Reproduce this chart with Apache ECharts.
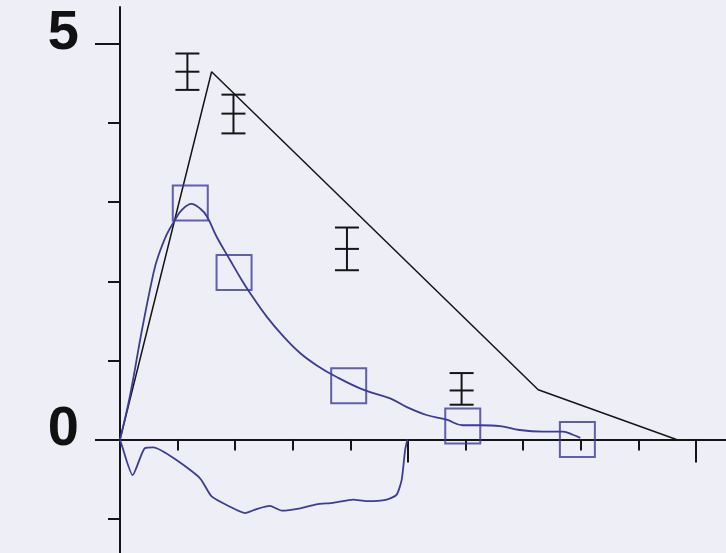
<!DOCTYPE html>
<html>
<head>
<meta charset="utf-8">
<script src="https://cdn.jsdelivr.net/npm/echarts@6/dist/echarts.min.js"></script>
<style>
html,body{margin:0;padding:0;background:#eeeef6;}
#c{width:726px;height:553px;}
</style>
</head>
<body>
<div id="c"></div>
<script>
// Tick values
const xMinorTicks = [1, 2, 3, 4, 6, 7, 8, 9];
const xMajorTicks = [0, 5, 10];
const yMinorTicks = [-4, -3, -2, -1, 1, 2, 3, 4];
const yMajorTicks = [-5, 0, 5];
const yTickLabels = [0, 5];

// Black straight polyline
const blackX = [0, 1.59, 7.26, 9.66];
const blackY = [0, 4.65, 0.63, 0];

// Error bars (black)
const errX    = [1.17, 1.97, 3.94, 5.93];
const errMid  = [4.65, 4.12, 2.41, 0.62];
const errLow  = [4.42, 3.87, 2.14, 0.44];
const errHigh = [4.88, 4.36, 2.68, 0.84];

// Open squares (blue)
const sqX = [1.22, 1.98, 3.97, 5.95, 7.94];
const sqY = [2.99, 2.11, 0.68, 0.17, 0.0];

// Smooth blue curve (positive)
const blueX = [0, 0.17, 0.38, 0.58, 0.66, 0.81, 0.95, 1.07, 1.24, 1.39, 1.51, 1.68, 1.91, 2.11, 2.26, 2.55, 2.84, 3.13, 3.41, 3.76, 4.22, 4.69, 4.98, 5.32, 5.67, 5.95, 6.25, 6.60, 6.94, 7.34, 7.69, 7.86, 7.99];
const blueY = [0, 0.54, 1.38, 2.10, 2.31, 2.59, 2.77, 2.90, 2.98, 2.92, 2.82, 2.56, 2.27, 2.02, 1.85, 1.55, 1.30, 1.09, 0.94, 0.79, 0.63, 0.52, 0.41, 0.31, 0.25, 0.18, 0.18, 0.17, 0.12, 0.10, 0.10, 0.06, 0.02];

// Jagged blue curve (negative)
const lowX = [0, 0.03, 0.22, 0.43, 0.58, 0.98, 1.39, 1.59, 1.91, 2.17, 2.37, 2.60, 2.81, 3.13, 3.41, 3.70, 4.05, 4.28, 4.63, 4.80, 4.89, 4.95, 4.99];
const lowY = [0, -0.07, -0.45, -0.11, -0.10, -0.26, -0.49, -0.72, -0.85, -0.93, -0.88, -0.84, -0.90, -0.87, -0.82, -0.80, -0.76, -0.78, -0.76, -0.70, -0.51, -0.13, 0.0];

const zip = (a, b) => a.map((v, i) => [v, b[i]]);
const errData = errX.map((x, i) => [x, errLow[i], errMid[i], errHigh[i]]);

const BLUE = '#3b3b98';
const BLACK = '#151515';
const XMIN = 0, XMAX = 10.52, YMIN = -5, YMAX = 5.468;

const chart = echarts.init(document.getElementById('c'));
chart.setOption({
  backgroundColor: '#eeeef6',
  animation: false,
  grid: {left: 120, width: 606, top: 7, height: 828, outerBoundsMode: 'none', containLabel: false},
  xAxis: [{
    type: 'value', min: XMIN, max: XMAX, interval: 1,
    axisLine: {show: true, onZero: true, lineStyle: {color: BLACK, width: 2}},
    axisTick: {show: true, inside: false, length: 11, customValues: xMinorTicks, lineStyle: {color: BLACK, width: 2}},
    axisLabel: {show: false},
    splitLine: {show: false}
  }, {
    type: 'value', min: XMIN, max: XMAX, interval: 1, position: 'bottom',
    axisLine: {show: false, onZero: true},
    axisTick: {show: true, inside: false, length: 23, customValues: xMajorTicks, lineStyle: {color: BLACK, width: 2}},
    axisLabel: {show: false},
    splitLine: {show: false}
  }],
  yAxis: [{
    type: 'value', min: YMIN, max: YMAX, interval: 1, position: 'left',
    axisLine: {show: true, onZero: false, lineStyle: {color: BLACK, width: 2}},
    axisTick: {show: true, inside: false, length: 12, customValues: yMinorTicks, lineStyle: {color: BLACK, width: 2}},
    axisLabel: {
      show: true, margin: 41, color: '#111', customValues: yTickLabels,
      fontFamily: 'Liberation Sans', fontWeight: 'bold', fontSize: 56,
      verticalAlign: 'bottom', lineHeight: 20
    },
    splitLine: {show: false}
  }, {
    type: 'value', min: YMIN, max: YMAX, interval: 1, position: 'left', offset: 0,
    axisLine: {show: false, onZero: false},
    axisTick: {show: true, inside: false, length: 25, customValues: yMajorTicks, lineStyle: {color: BLACK, width: 2}},
    axisLabel: {show: false},
    splitLine: {show: false}
  }],
  series: [
    {
      type: 'line', data: zip(blackX, blackY), symbol: 'none',
      lineStyle: {color: BLACK, width: 1.5}, z: 3
    },
    {
      type: 'line', data: zip(blueX, blueY), symbol: 'none', smooth: 0.4,
      lineStyle: {color: BLUE, width: 1.8}, z: 3
    },
    {
      type: 'line', data: zip(lowX, lowY), symbol: 'none', smooth: 0.2,
      lineStyle: {color: BLUE, width: 1.8}, z: 3
    },
    {
      type: 'scatter', data: zip(sqX, sqY), symbol: 'rect', symbolSize: 35,
      itemStyle: {color: 'rgba(0,0,0,0)', borderColor: BLUE, borderWidth: 2}, z: 4
    },
    {
      type: 'custom', data: errData, z: 5,
      renderItem: function (params, api) {
        const x = api.value(0);
        const pL = api.coord([x, api.value(1)]);
        const pM = api.coord([x, api.value(2)]);
        const pH = api.coord([x, api.value(3)]);
        const hw = 12;
        const st = {stroke: BLACK, lineWidth: 2};
        return {
          type: 'group',
          children: [
            {type: 'line', shape: {x1: pL[0], y1: pL[1], x2: pH[0], y2: pH[1]}, style: st},
            {type: 'line', shape: {x1: pL[0] - hw, y1: pL[1], x2: pL[0] + hw, y2: pL[1]}, style: st},
            {type: 'line', shape: {x1: pM[0] - hw, y1: pM[1], x2: pM[0] + hw, y2: pM[1]}, style: st},
            {type: 'line', shape: {x1: pH[0] - hw, y1: pH[1], x2: pH[0] + hw, y2: pH[1]}, style: st}
          ]
        };
      }
    }
  ]
});
</script>
</body>
</html>
